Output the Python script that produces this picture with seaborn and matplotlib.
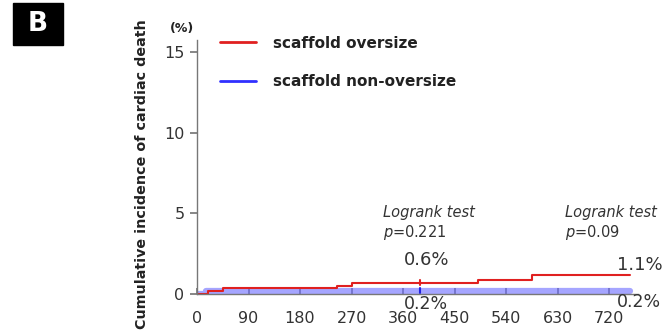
import numpy as np
import pandas as pd
import seaborn as sns
import matplotlib
matplotlib.use("Agg")
import matplotlib.pyplot as plt
from matplotlib.lines import Line2D
from matplotlib.patches import Rectangle

# data (days, cumulative incidence %)
oversize_days = [0, 20, 45, 245, 270, 490, 585, 757]
oversize_pct = [0.0, 0.2, 0.4, 0.5, 0.65, 0.85, 1.15, 1.15]
nonover_days = [0, 15, 757]
nonover_pct = [0.0, 0.2, 0.2]
x_ticks = [0, 90, 180, 270, 360, 450, 540, 630, 720]
y_ticks = [0, 5, 10, 15]
censor_day = 390

sns.set_theme(style="white")
plt.rcParams['font.family'] = ['DejaVu Sans']

df = pd.concat([
    pd.DataFrame({"day": oversize_days, "pct": oversize_pct, "group": "scaffold oversize"}),
    pd.DataFrame({"day": nonover_days, "pct": nonover_pct, "group": "scaffold non-oversize"}),
])

fig = plt.figure(figsize=(6.71, 3.32), dpi=100)
ax = fig.add_axes([0.2936, 0.1145, 0.657, 0.7655])

sns.lineplot(data=df[df.group == "scaffold non-oversize"], x="day", y="pct",
             drawstyle="steps-post", color="#6a6aff", lw=4.5, alpha=0.6, ax=ax,
             legend=False)
sns.lineplot(data=df[df.group == "scaffold oversize"], x="day", y="pct",
             drawstyle="steps-post", color="#e02020", lw=1.5, ax=ax, legend=False)

# censor marks at ~1 year
ax.plot([censor_day, censor_day], [0.55, 0.85], color="#e02020", lw=1.5)
ax.plot([censor_day, censor_day], [0.05, 0.35], color="#2020e0", lw=1.5)

ax.set_xlim(0, 770)
ax.set_ylim(0, 15.75)
ax.set_xticks(x_ticks)
ax.set_yticks(y_ticks)
ax.set_xlabel("")
ax.set_ylabel("Cumulative incidence of cardiac death", fontsize=10.3,
              fontweight="bold", color="#222222")
ax.yaxis.set_label_coords(-0.108, 0.47)

for s in ["top", "right"]:
    ax.spines[s].set_visible(False)
for s in ["left", "bottom"]:
    ax.spines[s].set_color("#777777")
    ax.spines[s].set_linewidth(1.0)
ax.tick_params(axis="x", direction="in", length=4, color="#777777",
               labelsize=11.5, labelcolor="#333333", pad=12)
ax.tick_params(axis="y", direction="out", length=5, color="#777777",
               labelsize=11.5, labelcolor="#333333", pad=4)
ax.xaxis.set_ticks_position("bottom")
ax.yaxis.set_ticks_position("left")

handles = [Line2D([], [], color="#e02020", lw=2),
           Line2D([], [], color="#3030ff", lw=2)]
leg = ax.legend(handles, ["scaffold oversize", "scaffold non-oversize"],
                loc="upper left", bbox_to_anchor=(0.02, 1.07), frameon=False,
                handlelength=2.4, handletextpad=1.1, labelspacing=1.55,
                prop={"weight": "bold", "size": 11})
for t in leg.get_texts():
    t.set_color("#222222")

tc = "#333333"
ax.text(325, 4.75, "Logrank test", style="italic", fontsize=10.5, color=tc)
ax.text(325, 3.55, "$p$=0.221", fontsize=10.5, color=tc)
ax.text(362, 1.8, "0.6%", fontsize=13, color=tc)
ax.text(733, 1.5, "1.1%", fontsize=13, color=tc)
ax.text(643, 4.75, "Logrank test", style="italic", fontsize=10.5, color=tc)
ax.text(643, 3.55, "$p$=0.09", fontsize=10.5, color=tc)
ax.text(362, -0.95, "0.2%", fontsize=12.5, color=tc)
ax.text(733, -0.8, "0.2%", fontsize=12.5, color=tc)

fig.text(0.253, 0.905, "(%)", fontsize=9, fontweight="bold", color="#222222")
fig.patches.append(Rectangle((0.0194, 0.8645), 0.0745, 0.1265,
                             transform=fig.transFigure, fc="black", ec="black"))
fig.text(0.0566, 0.928, "B", fontsize=19, fontweight="bold", color="white",
         ha="center", va="center")

fig.savefig("out.png", dpi=100)
